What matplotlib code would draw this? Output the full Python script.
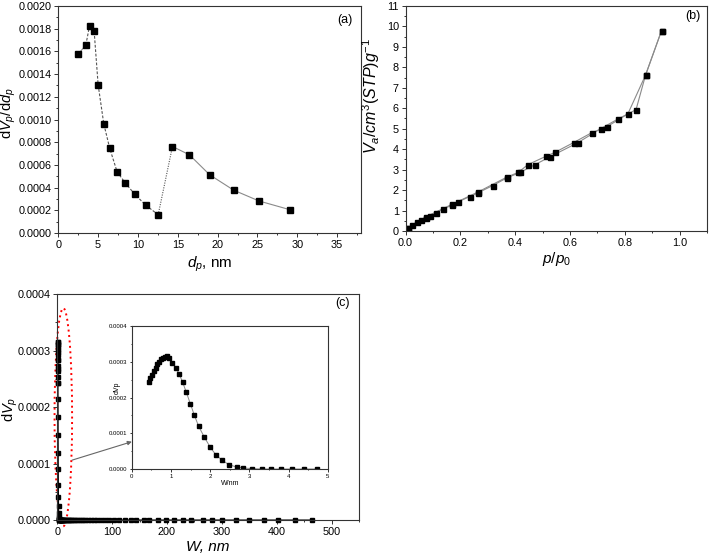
import matplotlib
matplotlib.use("Agg")
import matplotlib.pyplot as plt
from matplotlib.patches import Ellipse
from matplotlib.ticker import MultipleLocator, FormatStrFormatter

plt.rcParams['font.family'] = ['Liberation Sans', 'DejaVu Sans']
plt.rcParams['mathtext.fontset'] = 'custom'
plt.rcParams['mathtext.rm'] = 'Liberation Sans'
plt.rcParams['mathtext.it'] = 'Liberation Sans:italic'
plt.rcParams['mathtext.bf'] = 'Liberation Sans:bold'

# (a) BJH pore size distribution
dp = [2.5, 3.46, 3.92, 4.5, 5.0, 5.71, 6.46, 7.38, 8.38, 9.58, 10.96, 12.54,
      14.33, 16.46, 19.0, 22.0, 25.2, 29.08]
dv_ddp = [0.001575, 0.001657, 0.001824, 0.00178, 0.001308, 0.000962, 0.000745,
          0.00054, 0.000443, 0.000343, 0.000246, 0.000161,
          0.000762, 0.000689, 0.000513, 0.000378, 0.000282, 0.000205]

# (b) N2 isotherm, adsorption and desorption branches
p_ads = [0.0085, 0.024, 0.043, 0.058, 0.074, 0.09, 0.112, 0.138, 0.169, 0.191,
         0.234, 0.265, 0.318, 0.369, 0.419, 0.472, 0.526, 0.629, 0.712, 0.777,
         0.841, 0.876, 0.934]
v_ads = [0.13, 0.29, 0.46, 0.55, 0.65, 0.75, 0.90, 1.08, 1.26, 1.42,
         1.68, 1.87, 2.22, 2.59, 2.87, 3.24, 3.62, 4.32, 5.00, 5.49,
         5.93, 7.63, 9.79]
p_des = [0.934, 0.876, 0.811, 0.734, 0.68, 0.613, 0.546, 0.512, 0.446, 0.412,
         0.369, 0.265, 0.169, 0.074, 0.0085]
v_des = [9.79, 7.63, 5.72, 5.09, 4.81, 4.32, 3.85, 3.65, 3.24, 2.87,
         2.63, 1.91, 1.30, 0.69, 0.15]

# (c) pore width distribution (inset range, 0-5 nm)
w_in = [0.432, 0.474, 0.516, 0.559, 0.61, 0.652, 0.694, 0.745, 0.796, 0.839,
        0.89, 0.94, 1.033, 1.118, 1.203, 1.296, 1.389, 1.49, 1.592, 1.703,
        1.846, 1.99, 2.136, 2.304, 2.474, 2.669, 2.847, 3.076, 3.313, 3.542,
        3.796, 4.076, 4.389, 4.72]
dv_in = [0.0002434, 0.0002537, 0.000264, 0.0002733, 0.0002836, 0.0002929,
         0.0003004, 0.0003068, 0.0003116, 0.0003144, 0.0003152, 0.0003097,
         0.0002975, 0.0002835, 0.0002667, 0.0002424, 0.0002145, 0.0001829,
         0.000151, 0.0001194, 0.0000895, 0.0000626, 0.0000402, 0.0000243,
         0.0000122, 0.0000056, 0.0000028, 0.000001, 0.0, 0.0,
         0.0, 0.0, 0.0, 0.0]
# larger widths, all at ~0
w_tail = [5.1, 5.5, 6.0, 6.5, 7.1, 7.7, 8.4, 9.2, 10.0, 11.0, 12.0, 13.0,
          14.5, 16.0, 17.5, 19.0, 21.0, 23.0, 25.0, 27.5, 30.0, 33.0, 36.0,
          39.0, 43.0, 47.0, 51.0, 56.0, 61.0, 67.0, 73.0, 80.0, 87.0, 95.0,
          104.0, 113.0, 123.0, 134.0, 144.0, 158.0, 168.0, 184.0, 198.0,
          213.0, 229.0, 244.0, 265.0, 282.0, 301.0, 326.0, 350.0, 376.0,
          403.0, 433.0, 465.0]
dv_tail = [0.0, 0.0, 0.0, 0.0, 0.0, 0.0, 0.0, 0.0, 0.0, 0.0, 0.0, 0.0,
           0.0, 0.0, 0.0, 0.0, 0.0, 0.0, 0.0, 0.0, 0.0, 0.0, 0.0,
           0.0, 0.0, 0.0, 0.0, 0.0, 0.0, 0.0, 0.0, 0.0, 0.0, 0.0,
           0.0, 0.0, 0.0, 0.0, 0.0, 0.0, 0.0, 0.0, 0.0,
           0.0, 0.0, 0.0, 0.0, 0.0, 0.0, 0.0, 0.0, 0.0,
           0.0, 0.0, 0.0]

LINE = '#8a8a8a'
SPINE = '#333333'


def style_axes(ax, size=7.8, major=2.8, minor=1.6, pad=2.0):
    for s in ax.spines.values():
        s.set_color(SPINE)
        s.set_linewidth(0.8)
    ax.tick_params(which='both', direction='out', top=False, right=False,
                   labelsize=size, colors=SPINE, width=0.7, pad=pad)
    ax.tick_params(which='major', length=major)
    ax.tick_params(which='minor', length=minor)
    for lab in ax.get_xticklabels() + ax.get_yticklabels():
        lab.set_color('black')


fig = plt.figure(figsize=(7.09, 5.57), dpi=100)

# ---- (a)
ax_a = fig.add_axes([0.0822, 0.5817, 0.427, 0.4075])
ax_a.plot(dp[:2], dv_ddp[:2], color=LINE, lw=0.8)
ax_a.plot(dp[1:12], dv_ddp[1:12], color='#555555', lw=0.8, ls=(0, (2.5, 1.5)))
ax_a.plot(dp[11:13], dv_ddp[11:13], color='#555555', lw=0.8, ls=(0, (1, 1.2)))
ax_a.plot(dp[12:], dv_ddp[12:], color=LINE, lw=0.8)
ax_a.plot(dp, dv_ddp, ls='none', marker='s', ms=4.2, color='black')
ax_a.set_xlim(0, 38)
ax_a.set_ylim(0, 0.002)
ax_a.xaxis.set_major_locator(MultipleLocator(5))
ax_a.xaxis.set_minor_locator(MultipleLocator(2.5))
ax_a.yaxis.set_major_locator(MultipleLocator(0.0002))
ax_a.yaxis.set_minor_locator(MultipleLocator(0.0001))
ax_a.yaxis.set_major_formatter(FormatStrFormatter('%.4f'))
style_axes(ax_a)
ax_a.set_xlabel(r'$d_p$, nm', fontsize=11)
ax_a.set_ylabel(r'd$V_p$/d$d_p$', fontsize=10.5)
ax_a.xaxis.set_label_coords(0.5, -0.095)
ax_a.yaxis.set_label_coords(-0.132, 0.53)
ax_a.text(0.947, 0.94, '(a)', transform=ax_a.transAxes, fontsize=9,
          ha='center', va='center')

# ---- (b)
ax_b = fig.add_axes([0.572, 0.5853, 0.4252, 0.404])
ax_b.plot(p_ads, v_ads, color=LINE, lw=0.8)
ax_b.plot(p_des, v_des, color=LINE, lw=0.8)
ax_b.plot(p_ads, v_ads, ls='none', marker='s', ms=3.6, color='black')
ax_b.plot(p_des, v_des, ls='none', marker='s', ms=3.6, color='black')
ax_b.set_xlim(0, 1.1)
ax_b.set_ylim(0, 11)
ax_b.xaxis.set_major_locator(MultipleLocator(0.2))
ax_b.xaxis.set_minor_locator(MultipleLocator(0.1))
ax_b.yaxis.set_major_locator(MultipleLocator(1))
ax_b.yaxis.set_minor_locator(MultipleLocator(0.5))
ax_b.xaxis.set_major_formatter(FormatStrFormatter('%.1f'))
style_axes(ax_b)
ax_b.set_xlabel(r'$p/p_0$', fontsize=11)
ax_b.set_ylabel(r'$V_a/cm^3(STP)g^{-1}$', fontsize=11.5)
ax_b.xaxis.set_label_coords(0.5, -0.085)
ax_b.yaxis.set_label_coords(-0.078, 0.6)
ax_b.text(0.954, 0.955, '(b)', transform=ax_b.transAxes, fontsize=9,
          ha='center', va='center')

# ---- (c)
ax_c = fig.add_axes([0.0808, 0.0664, 0.4255, 0.4057])
ax_c.plot(w_in + w_tail, dv_in + dv_tail, color='black', lw=0.8)
ax_c.plot(w_in + w_tail, dv_in + dv_tail, ls='none', marker='s', ms=3.5,
          color='black', clip_on=False)
ax_c.set_xlim(0, 550)
ax_c.set_ylim(0, 0.0004)
ax_c.xaxis.set_major_locator(MultipleLocator(100))
ax_c.xaxis.set_minor_locator(MultipleLocator(50))
ax_c.yaxis.set_major_locator(MultipleLocator(0.0001))
ax_c.yaxis.set_minor_locator(MultipleLocator(0.00005))
ax_c.yaxis.set_major_formatter(FormatStrFormatter('%.4f'))
style_axes(ax_c)
ax_c.set_xlabel('W, nm', fontsize=11, style='italic')
ax_c.set_ylabel(r'd$V_p$', fontsize=10.5)
ax_c.xaxis.set_label_coords(0.5, -0.088)
ax_c.yaxis.set_label_coords(-0.122, 0.49)
ax_c.text(0.947, 0.96, '(c)', transform=ax_c.transAxes, fontsize=9,
          ha='center', va='center')
ell = Ellipse((11, 0.000182), 32, 0.000386, fill=False, edgecolor='red',
              ls=(0, (1, 1.8)), lw=1.4, clip_on=False)
ax_c.add_patch(ell)

# inset
ax_in = fig.add_axes([0.186, 0.158, 0.2765, 0.2567])
ax_in.plot(w_in, dv_in, color=LINE, lw=0.7)
ax_in.plot(w_in, dv_in, ls='none', marker='s', ms=2.4, color='black')
ax_in.set_xlim(0, 5)
ax_in.set_ylim(0, 0.0004)
ax_in.xaxis.set_major_locator(MultipleLocator(1))
ax_in.xaxis.set_minor_locator(MultipleLocator(0.5))
ax_in.yaxis.set_major_locator(MultipleLocator(0.0001))
ax_in.yaxis.set_minor_locator(MultipleLocator(0.00005))
ax_in.yaxis.set_major_formatter(FormatStrFormatter('%.4f'))
style_axes(ax_in, size=4.3, major=1.8, minor=1.0, pad=1.5)
ax_in.set_xlabel('W/nm', fontsize=5)
ax_in.set_ylabel('dVp', fontsize=5)
ax_in.xaxis.set_label_coords(0.5, -0.08)
ax_in.yaxis.set_label_coords(-0.055, 0.565)

ax_c.annotate('', xy=(0, 0.0000764), xycoords=ax_in.transData,
              xytext=(27, 0.000106), textcoords=ax_c.transData,
              arrowprops=dict(arrowstyle='-|>', color='#666666', lw=0.8,
                              mutation_scale=6, shrinkA=0, shrinkB=0))

fig.savefig('out.png', dpi=100)
